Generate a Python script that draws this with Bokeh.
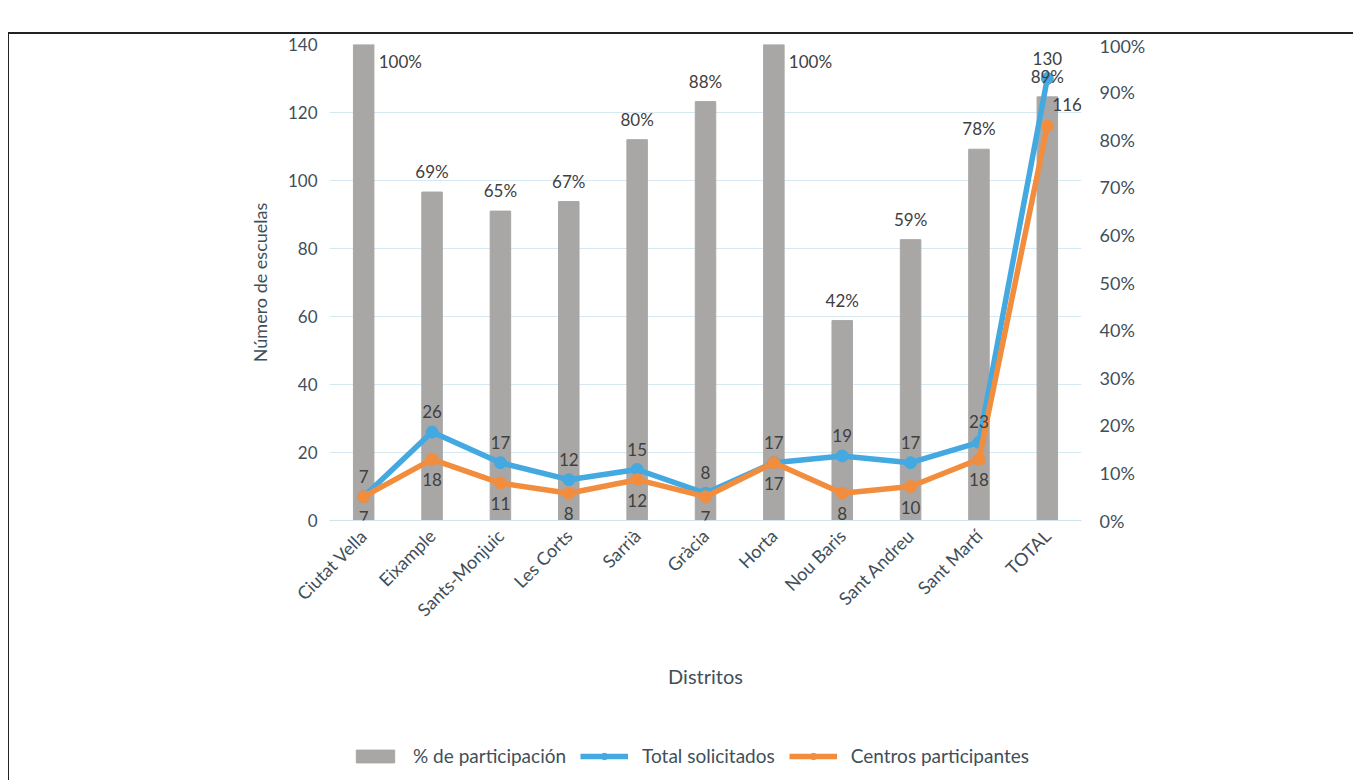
from bokeh.plotting import figure
from bokeh.layouts import column
from bokeh.models import (Range1d, LinearAxis, FixedTicker, NumeralTickFormatter,
                          ColumnDataSource, LabelSet, Legend, LegendItem)
from bokeh.core.properties import value
from bokeh.embed import file_html
from bokeh.resources import INLINE
import math

distritos = ["Ciutat Vella", "Eixample", "Sants-Monjuic", "Les Corts", "Sarrià", "Gràcia",
             "Horta", "Nou Baris", "Sant Andreu", "Sant Martí", "TOTAL"]
pct_participacion = [1.00, 0.69, 0.65, 0.67, 0.80, 0.88, 1.00, 0.42, 0.59, 0.78, 0.89]
total_solicitados = [7, 26, 17, 12, 15, 8, 17, 19, 17, 23, 130]
centros_participantes = [7, 18, 11, 8, 12, 7, 17, 8, 10, 18, 116]

FONT = "Lato"
TXT = "#3f4f5a"
LBL = "#404040"
BLUE = "#44a9e0"
ORANGE = "#f38d3e"
GRAY = "#a9a7a5"

p = figure(x_range=distritos, y_range=Range1d(0, 140),
           width=1344, height=700,
           min_border_left=320, min_border_right=272, min_border_top=10, min_border_bottom=214,
           output_backend="svg", toolbar_location=None)
p.outline_line_color = None
p.extra_y_ranges = {"pct": Range1d(0, 1)}

# bars
src_bar = ColumnDataSource(dict(x=distritos, top=pct_participacion))
bars = p.vbar(x="x", top="top", width=0.3, color=GRAY, y_range_name="pct", source=src_bar)

# lines
src_l = ColumnDataSource(dict(x=distritos, tot=total_solicitados, cen=centros_participantes))
lb = p.line("x", "tot", source=src_l, color=BLUE, line_width=5.5)
sb = p.scatter("x", "tot", source=src_l, color=BLUE, size=12)
lo = p.line("x", "cen", source=src_l, color=ORANGE, line_width=5.5)
so = p.scatter("x", "cen", source=src_l, color=ORANGE, size=12)

lab_kw = dict(text_font=value(FONT), text_font_size="17px", text_color=LBL)

# bar labels (non-100% above the bar, 100% to the right)
above_idx = [i for i, v in enumerate(pct_participacion) if v < 1.0]
full_idx = [i for i, v in enumerate(pct_participacion) if v >= 1.0]
src_ba = ColumnDataSource(dict(x=[distritos[i] for i in above_idx],
                               y=[pct_participacion[i] for i in above_idx],
                               lab=[f"{round(pct_participacion[i]*100)}%" for i in above_idx]))
src_bf = ColumnDataSource(dict(x=[distritos[i] for i in full_idx],
                               y=[pct_participacion[i] for i in full_idx],
                               lab=[f"{round(pct_participacion[i]*100)}%" for i in full_idx]))
p.add_layout(LabelSet(x="x", y="y", text="lab", source=src_ba, y_range_name="pct",
                      text_align="center", text_baseline="bottom", y_offset=10, **lab_kw))
p.add_layout(LabelSet(x="x", y="y", text="lab", source=src_bf, y_range_name="pct",
                      text_align="left", text_baseline="middle", x_offset=15, y_offset=-17,
                      **lab_kw))

# line labels
p.add_layout(LabelSet(x="x", y="tot", text="tot", source=src_l,
                      text_align="center", text_baseline="bottom", y_offset=14, **lab_kw))
src_cl = ColumnDataSource(dict(x=distritos[:-1], y=centros_participantes[:-1],
                               lab=[str(v) for v in centros_participantes[:-1]]))
p.add_layout(LabelSet(x="x", y="y", text="lab", source=src_cl,
                      text_align="center", text_baseline="top", y_offset=-14, **lab_kw))
src_ct = ColumnDataSource(dict(x=distritos[-1:], y=centros_participantes[-1:],
                               lab=[str(v) for v in centros_participantes[-1:]]))
p.add_layout(LabelSet(x="x", y="y", text="lab", source=src_ct,
                      text_align="left", text_baseline="middle", x_offset=5, y_offset=22,
                      **lab_kw))

# axes
p.yaxis.ticker = FixedTicker(ticks=list(range(0, 141, 20)))
p.yaxis.axis_label = "Número de escuelas"
p.yaxis.axis_line_color = None
p.yaxis.major_tick_line_color = None
p.yaxis.minor_tick_line_color = None
p.yaxis.major_label_standoff = 6
p.yaxis.axis_label_standoff = 14

ra = LinearAxis(y_range_name="pct", ticker=FixedTicker(ticks=[i/10 for i in range(11)]),
                formatter=NumeralTickFormatter(format="0%"))
ra.axis_line_color = None
ra.major_tick_line_color = None
ra.minor_tick_line_color = None
ra.major_label_standoff = 12
p.add_layout(ra, "right")

p.xaxis.axis_label = "Distritos"
p.xaxis.major_label_orientation = math.pi / 4
p.xaxis.axis_line_color = "#cfe3ee"
p.xaxis.major_tick_line_color = None
p.xaxis.minor_tick_line_color = None
p.xaxis.major_label_standoff = 6
p.xaxis.axis_label_standoff = 33

for ax in [p.yaxis[0], ra, p.xaxis[0]]:
    ax.major_label_text_font = FONT
    ax.major_label_text_color = TXT
    ax.axis_label_text_font = FONT
    ax.axis_label_text_font_style = "normal"
    ax.axis_label_text_color = TXT
p.yaxis.major_label_text_font_size = "17px"
ra.major_label_text_font_size = "18px"
p.xaxis.major_label_text_font_size = "18px"
p.yaxis.axis_label_text_font_size = "18px"
p.xaxis.axis_label_text_font_size = "20px"

p.xgrid.grid_line_color = None
p.ygrid.grid_line_color = "#d6e8f1"

# legend in its own strip below the chart (hidden proxy renderers for the legend glyphs)
pl = figure(width=1344, height=46, x_range=Range1d(0, 1), y_range=Range1d(0, 1),
            min_border=0, output_backend="svg", toolbar_location=None)
pl.axis.visible = False
pl.grid.visible = False
pl.outline_line_color = None
e_bar = pl.vbar(x="top", top="top", width=0.3, color=GRAY, source=src_bar, visible=False)
e_lb = pl.line(x="tot", y="cen", color=BLUE, line_width=5.5, source=src_l, visible=False)
e_sb = pl.scatter(x="tot", y="cen", color=BLUE, size=12, source=src_l, visible=False)
e_lo = pl.line(x="tot", y="cen", color=ORANGE, line_width=5.5, source=src_l, visible=False)
e_so = pl.scatter(x="tot", y="cen", color=ORANGE, size=12, source=src_l, visible=False)
legend = Legend(items=[LegendItem(label="% de participación", renderers=[e_bar]),
                       LegendItem(label="Total solicitados", renderers=[e_lb, e_sb]),
                       LegendItem(label="Centros participantes", renderers=[e_lo, e_so])],
                orientation="horizontal", location=(22, 13),
                glyph_width=48, glyph_height=16, label_standoff=14, spacing=14,
                label_text_font=FONT, label_text_font_size="19px", label_text_color=TXT,
                inactive_fill_alpha=0, border_line_color=None, background_fill_alpha=0)
pl.add_layout(legend, "center")

layout = column(p, pl, spacing=0)
layout.styles = {"margin-top": "32px", "margin-left": "8px",
                 "border-top": "2px solid #222", "border-left": "1px solid #222"}

open("out.html", "w").write(file_html(layout, INLINE))
